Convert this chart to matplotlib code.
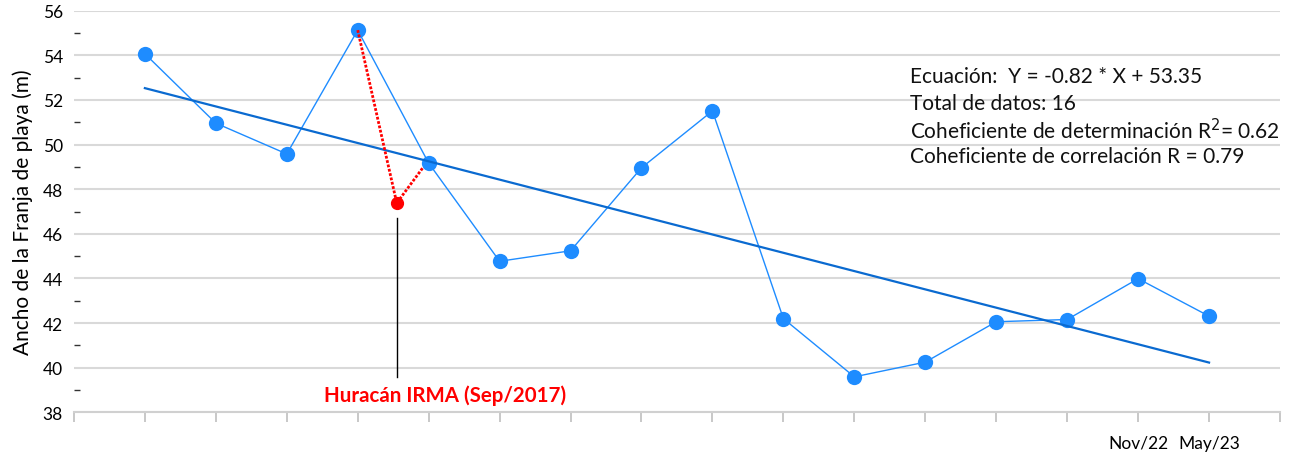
import numpy as np
import matplotlib
matplotlib.use('Agg')
import matplotlib.pyplot as plt
from matplotlib.ticker import MultipleLocator

plt.rcParams['font.family'] = ['Lato', 'DejaVu Sans']

# data
periods = list(range(1, 17))
ancho = [54.07, 50.96, 49.58, 55.13, 49.17, 44.77, 45.24, 48.96,
         51.51, 42.20, 39.59, 40.25, 42.06, 42.16, 43.99, 42.31]
tick_labels = {15: 'Nov/22', 16: 'May/23'}

# regression from the text box
slope = -0.82
intercept = 53.35
stats_lines = ['Ecuación:  Y = -0.82 * X + 53.35',
               'Total de datos: 16',
               'Coheficiente de determinación R$^2$= 0.62',
               'Coheficiente de correlación R = 0.79']

# hurricane IRMA point (between periods 4 and 5)
irma_x = 4.55
irma_y = 47.38

fig = plt.figure(figsize=(13.04, 4.56), dpi=100)
ax = fig.add_axes([0.0567, 0.0936, 0.9249, 0.8807])

blue = '#1E8CFF'
trend_blue = '#0A6AD0'

ax.plot(periods, ancho, color=blue, lw=1.0, marker='o', markersize=11,
        markeredgewidth=0, zorder=3)

x_trend = np.array([periods[0], periods[-1]])
ax.plot(x_trend, slope * x_trend + intercept, color=trend_blue, lw=1.6, zorder=4)

# red dotted path for the hurricane
ax.plot([periods[3], irma_x, periods[4] - 0.08], [ancho[3], irma_y, ancho[4] - 0.2],
        color='#FF0000', lw=2, linestyle=(0, (1, 0.6)), zorder=5)
ax.plot([irma_x], [irma_y], 'o', color='#FF0000', markersize=8.5, zorder=6)
ax.plot([irma_x, irma_x], [46.7, 39.6], color='black', lw=1, zorder=2)
ax.text(irma_x + 0.68, 38.8, 'Huracán IRMA (Sep/2017)', color='#FF0000',
        fontsize=14.8, fontweight='bold', ha='center', va='center')

for i, line in enumerate(stats_lines):
    ax.text(11.78, 53.07 - i * 1.197, line, fontsize=15, ha='left', va='center',
            color='#111111')

ax.set_xlim(0, 17)
ax.set_ylim(38, 56)
ax.set_xticks(range(0, 18))
ax.set_xticklabels([tick_labels.get(i, '') for i in range(0, 18)])
ax.tick_params(axis='x', direction='out', length=7, color='#BFBFBF', width=1.2,
               labelsize=12.5, pad=9)

ax.yaxis.set_major_locator(MultipleLocator(2))
ax.yaxis.set_minor_locator(MultipleLocator(1))
ax.tick_params(axis='y', which='major', length=0, labelsize=12.5, pad=8)
ax.tick_params(axis='y', which='minor', direction='in', length=4, width=1,
               color='#333333')
ax.grid(axis='y', which='major', color='#D9D9D9', lw=1.5)
ax.set_axisbelow(True)

for s in ['top', 'right', 'left']:
    ax.spines[s].set_visible(False)
ax.spines['bottom'].set_color('#D0D0D0')
ax.spines['bottom'].set_linewidth(1.5)

ax.set_ylabel('Ancho de la Franja de playa (m)', fontsize=15, labelpad=7)

fig.savefig('out.png', dpi=100)
